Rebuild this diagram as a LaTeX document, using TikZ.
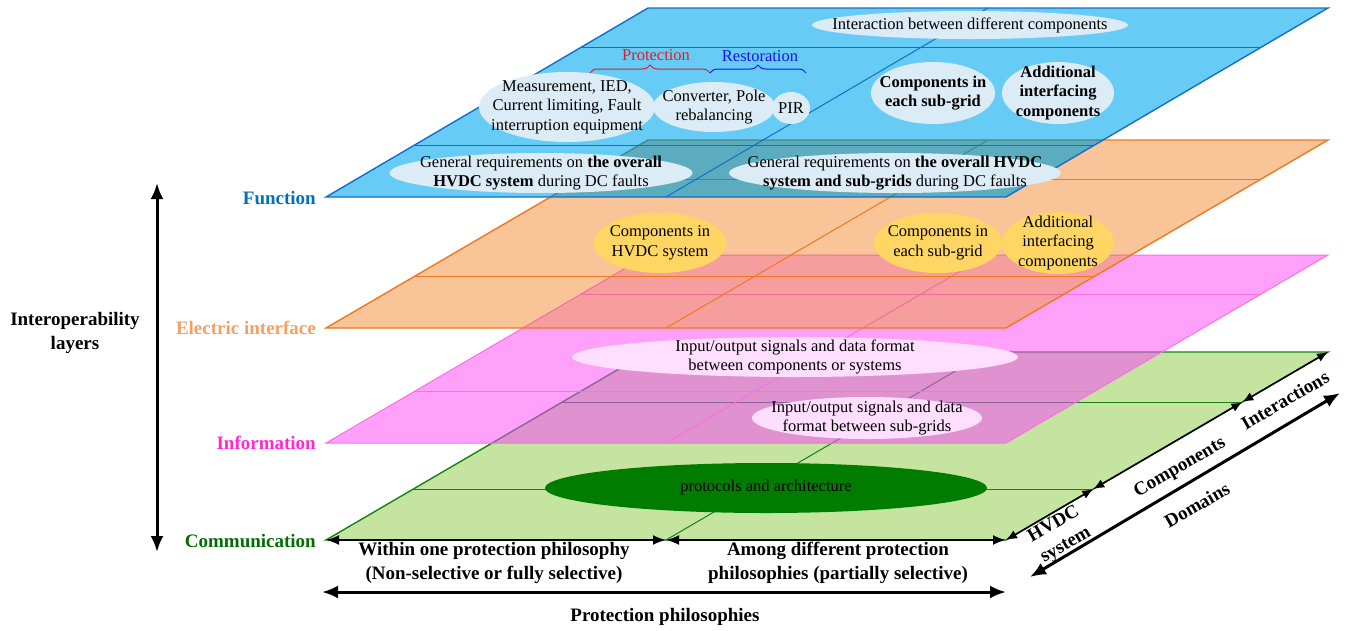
\documentclass[tikz,border=0pt]{standalone}
\usepackage{fontspec}
\setmainfont{Liberation Serif}
\usetikzlibrary{shapes.geometric,arrows.meta,decorations.pathreplacing,calc}

\definecolor{bluefill}{RGB}{102,204,245}
\definecolor{blueline}{RGB}{20,110,200}
\definecolor{orangefill}{RGB}{248,196,152}
\definecolor{orangeline}{RGB}{240,120,30}
\definecolor{pinkfill}{RGB}{255,160,250}
\definecolor{pinkline}{RGB}{250,110,230}
\definecolor{greenfill}{RGB}{197,228,160}
\definecolor{greenline}{RGB}{20,130,20}
\definecolor{tealov}{RGB}{92,172,192}
\definecolor{tealline}{RGB}{70,135,135}
\definecolor{salmonov}{RGB}{246,158,158}
\definecolor{salmonline}{RGB}{240,110,160}
\definecolor{mauveov}{RGB}{224,146,208}
\definecolor{mauveline}{RGB}{140,100,150}
\definecolor{ellblue}{RGB}{220,236,246}
\definecolor{ellgold}{RGB}{255,214,100}
\definecolor{ellpink}{RGB}{255,222,255}
\definecolor{ellgreen}{RGB}{0,125,0}
\definecolor{labfunc}{RGB}{0,112,192}
\definecolor{labelec}{RGB}{244,160,100}
\definecolor{labinfo}{RGB}{255,40,210}
\definecolor{labcomm}{RGB}{0,110,0}
\definecolor{protred}{RGB}{220,30,40}
\definecolor{restblue}{RGB}{20,20,230}

\newcommand\PlFill[2]{\fill[#2] (#1BL) -- (#1BR) -- (#1TR) -- (#1TL) -- cycle;}
\newcommand\PlClip[1]{\clip (#1BL) -- (#1BR) -- (#1TR) -- (#1TL) -- cycle;}
\newcommand\PlEdge[2]{\draw[#2] (#1BL) -- (#1BR) -- (#1TR) -- (#1TL) -- cycle;}
\newcommand\PlGrid[4]{%
  \draw[#2] ($(#1BL)!#3!(#1TL)$) -- ($(#1BR)!#3!(#1TR)$);
  \draw[#2] ($(#1BL)!#4!(#1TL)$) -- ($(#1BR)!#4!(#1TR)$);
  \draw[#2] ($(#1BL)!0.5!(#1BR)$) -- ($(#1TL)!0.5!(#1TR)$);}

\begin{document}
\begin{tikzpicture}[x=1pt,y=-1pt,
 txt/.style={font=\fontsize{16.5}{19.5}\selectfont, align=center, inner sep=0pt},
 btxt/.style={font=\fontsize{16.5}{19.5}\selectfont\bfseries, align=center, inner sep=0pt},
 lab/.style={font=\fontsize{19}{24}\selectfont\bfseries, align=center, inner sep=0pt},
 oval/.style={ellipse, inner sep=0pt, draw=none},
 bigarr/.style={line width=3pt, {Latex[length=16pt,width=13pt]}-{Latex[length=16pt,width=13pt]}},
 midarr/.style={line width=2pt, {Latex[length=13pt,width=10pt]}-{Latex[length=13pt,width=10pt]}},
 smallarr/.style={line width=1.6pt, {Latex[length=11pt,width=9pt]}-{Latex[length=11pt,width=9pt]}},
 thinl/.style={line width=1pt},
 edgel/.style={line width=1.4pt},
]
\useasboundingbox (0,0) rectangle (1354,630);

% plane corners
\coordinate (bBL) at (326,197); \coordinate (bBR) at (1006,197);
\coordinate (bTR) at (1328,8);  \coordinate (bTL) at (648,8);
\coordinate (oBL) at (326,328); \coordinate (oBR) at (1006,328);
\coordinate (oTR) at (1328,140); \coordinate (oTL) at (648,140);
\coordinate (pBL) at (326,443); \coordinate (pBR) at (1006,443);
\coordinate (pTR) at (1328,255); \coordinate (pTL) at (648,255);
\coordinate (gBL) at (326,540); \coordinate (gBR) at (1006,540);
\coordinate (gTR) at (1328,352); \coordinate (gTL) at (648,352);

% ---------- communication (green)
\PlFill{g}{greenfill}
\PlGrid{g}{greenline,thinl}{0.271}{0.734}
\PlEdge{g}{greenline,edgel}
\node[oval, fill=ellgreen, minimum width=442pt, minimum height=50pt] (gE) at (766,488) {};
\node[txt, font=\fontsize{16.5}{19.5}\selectfont] (gEt) at (gE) {protocols and architecture};

% ---------- information (pink)
\PlFill{p}{pinkfill}
\begin{scope}
  \PlClip{p}
  \PlFill{g}{mauveov}
  \PlGrid{g}{mauveline,thinl}{0.271}{0.734}
  \PlEdge{g}{mauveline,edgel}
\end{scope}
\PlGrid{p}{pinkline,thinl}{0.275}{0.79}
\PlEdge{p}{pinkline,thinl}
\node[oval, fill=ellpink, minimum width=446pt, minimum height=40pt] (pE1) at (795,357) {};
\node[txt] (pE1t) at (pE1) {Input/output signals and data format\\between components or systems};
\node[oval, fill=ellpink, minimum width=230pt, minimum height=42pt] (pE2) at (867,418) {};
\node[txt] (pE2t) at (pE2) {Input/output signals and data\\format between sub-grids};

% ---------- electric interface (orange)
\PlFill{o}{orangefill}
\begin{scope}
  \PlClip{o}
  \PlFill{p}{salmonov}
  \PlGrid{p}{salmonline,thinl}{0.275}{0.79}
  \PlEdge{p}{salmonline,thinl}
\end{scope}
\PlGrid{o}{orangeline,thinl}{0.275}{0.79}
\PlEdge{o}{orangeline,edgel}
\node[oval, fill=ellgold, minimum width=133pt, minimum height=60pt] (oE1) at (660,243) {};
\node[txt] (oE1t) at (oE1) {Components in\\HVDC system};
\node[oval, fill=ellgold, minimum width=128pt, minimum height=60pt] (oE2) at (938,243) {};
\node[txt] (oE2t) at (oE2) {Components in\\each sub-grid};
\node[oval, fill=ellgold, minimum width=112pt, minimum height=62pt] (oE3) at (1058,243) {};
\node[txt] (oE3t) at (oE3) {Additional\\interfacing\\components};

% ---------- function (blue)
\PlFill{b}{bluefill}
\begin{scope}
  \PlClip{b}
  \PlFill{o}{tealov}
  \PlGrid{o}{tealline,thinl}{0.275}{0.79}
  \PlEdge{o}{tealline,edgel}
\end{scope}
\PlGrid{b}{blueline,thinl}{0.275}{0.79}
\PlEdge{b}{blueline,edgel}
\node[oval, fill=ellblue, minimum width=316pt, minimum height=28pt] (bE1) at (970,25) {};
\node[txt] (bE1t) at (bE1) {Interaction between different components};
\node[oval, fill=ellblue, minimum width=176pt, minimum height=70pt] (bE2) at (567,107) {};
\node[txt] (bE2t) at (bE2) {Measurement, IED,\\Current limiting, Fault\\interruption equipment};
\node[oval, fill=ellblue, minimum width=122pt, minimum height=50pt] (bE3) at (714,107) {};
\node[txt] (bE3t) at (bE3) {Converter, Pole\\rebalancing};
\node[oval, fill=ellblue, minimum width=38pt, minimum height=32pt] (bE4) at (791,108) {};
\node[txt] (bE4t) at (bE4) {PIR};
\node[oval, fill=ellblue, minimum width=124pt, minimum height=62pt] (bE5) at (933,93) {};
\node[btxt] (bE5t) at (bE5) {Components in\\each sub-grid};
\node[oval, fill=ellblue, minimum width=112pt, minimum height=62pt] (bE6) at (1058,93) {};
\node[btxt] (bE6t) at (bE6) {Additional\\interfacing\\components};
\node[oval, fill=ellblue, minimum width=303pt, minimum height=40pt] (bE7) at (541,173) {};
\node[txt] (bE7t) at (bE7) {General requirements on \textbf{the overall}\\\textbf{HVDC system} during DC faults};
\node[oval, fill=ellblue, minimum width=332pt, minimum height=40pt] (bE8) at (895,173) {};
\node[txt] (bE8t) at (bE8) {General requirements on \textbf{the overall HVDC}\\\textbf{system and sub-grids} during DC faults};

% braces
\coordinate (brA) at (590,73); \coordinate (brB) at (710,73); \coordinate (brC) at (806,73);
\draw[protred, line width=1pt, decorate, decoration={brace, amplitude=8pt}] (brA) -- (brB);
\draw[restblue, line width=1pt, decorate, decoration={brace, amplitude=8pt}] (brB) -- (brC);
\node[txt, text=protred] (prot) at (656,55) {Protection};
\node[txt, text=restblue] (rest) at (760,56) {Restoration};

% ---------- layer labels and vertical arrow
\node[lab, text=labfunc, anchor=east] (lFun) at (316,198) {Function};
\node[lab, text=labelec, anchor=east] (lEle) at (316,328) {Electric interface};
\node[lab, text=labinfo, anchor=east] (lInf) at (316,443) {Information};
\node[lab, text=labcomm, anchor=east] (lCom) at (316,541) {Communication};
\coordinate (vTop) at (157,183); \coordinate (vBot) at (157,552);
\draw[bigarr] (vTop) -- (vBot);
\node[lab] (lInt) at (75,333) {Interoperability\\layers};

% ---------- bottom arrows
\coordinate (gBM) at ($(gBL)!0.5!(gBR)$);
\draw[midarr] (gBL) -- (gBM);
\draw[midarr] (gBM) -- (gBR);
\node[lab] (cap1) at (494,563) {Within one protection philosophy\\(Non-selective or fully selective)};
\node[lab] (cap2) at (838,563) {Among different protection\\philosophies (partially selective)};
\coordinate (ppL) at (322,592); \coordinate (ppR) at (1006,592);
\draw[bigarr] (ppL) -- (ppR);
\node[lab] (cap3) at (665,617) {Protection philosophies};

% ---------- right arrows
\coordinate (gR1) at ($(gBR)!0.271!(gTR)$);
\coordinate (gR2) at ($(gBR)!0.734!(gTR)$);
\draw[smallarr] (gBR) -- (gR1);
\draw[smallarr] (gR1) -- (gR2);
\draw[smallarr] (gR2) -- (gTR);
\node[lab, rotate=30] (rHv) at (1060,535) {HVDC\\system};
\node[lab, rotate=30] (rCo) at (1180,468) {Components};
\node[lab, rotate=30] (rIn) at (1285,400) {Interactions};
\coordinate (dmA) at (1030,577); \coordinate (dmB) at (1340,393);
\draw[bigarr] (dmA) -- (dmB);
\node[lab, rotate=30] (rDo) at (1197,505) {Domains};
\end{tikzpicture}
\end{document}
